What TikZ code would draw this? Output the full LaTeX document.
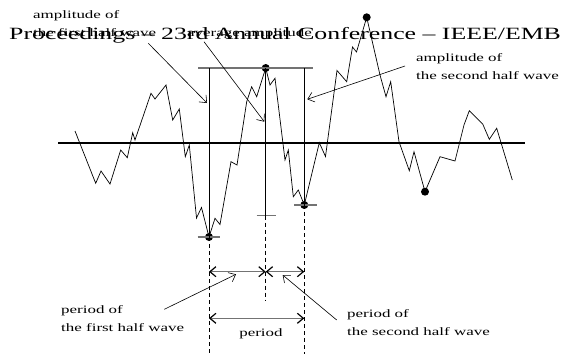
\documentclass[tikz,border=0pt]{standalone}
\usepackage{fontspec}
\setmainfont{Liberation Serif}[FakeStretch=1.5]
\usetikzlibrary{arrows.meta}

\begin{document}
\begin{tikzpicture}[x=1pt, y=-1pt,
  lbl/.style={align=left, anchor=base west, inner sep=0pt, font=\fontsize{11.3}{17.7}\selectfont},
  wave/.style={line width=0.7pt, line join=miter},
  guide/.style={line width=0.7pt},
  tick/.style={line width=1.1pt, draw=black!55},
  dot/.style={circle, fill=black, inner sep=0pt, minimum size=8pt},
  guess/.style={line width=0.7pt, dash pattern=on 4pt off 3pt},
  pointer/.style={-{Straight Barb[length=6pt, width=10pt]}, line width=0.6pt},
  span/.style={{Straight Barb[length=6pt, width=10pt, color=black]}-{Straight Barb[length=6pt, width=10pt, color=black]}, line width=1.2pt, draw=black!55}
]
\useasboundingbox (0,0) rectangle (563,354);
\node[anchor=base west, inner sep=0pt, font=\fontsize{17.2}{20}\selectfont] (head) at (9,39.5) {Proceedings -- 23rd Annual Conference -- IEEE/EMB};

\draw[line width=1.1pt] (58,143) -- (525,143);
\draw[wave] (75,131) -- (95.7,183.3) -- (101,171) -- (110,184) -- (120.7,150) -- (127.3,157.7)
  -- (132.7,132.7) -- (135,140) -- (151,93.3) -- (155,99) -- (166,85) -- (172.7,120) -- (179.3,109)
  -- (185.3,156.7) -- (189.3,145) -- (196.5,218) -- (201.5,207.5) -- (209,237) -- (215,218.3)
  -- (220,224.5) -- (231,161.7) -- (237,165) -- (246.7,101.7) -- (251.7,86.7) -- (256.7,96.7)
  -- (265.7,68) -- (270,85) -- (275,78.3) -- (285,160) -- (288.3,150) -- (293.3,196.7) -- (298.3,190)
  -- (304.3,205) -- (319.3,142.7) -- (325.5,156.5) -- (337,70.5) -- (346.7,81.7) -- (352.5,47)
  -- (356.5,52) -- (366.7,17.3) -- (380,75) -- (386,96.7) -- (390.7,81.7) -- (399,141.7)
  -- (409.3,170.7) -- (414,151.7) -- (425,191.7) -- (440,156.7) -- (455,161) -- (464,125)
  -- (469.3,110.7) -- (482.7,124) -- (489.3,139.3) -- (496.7,128.3) -- (512.3,180);

\node[dot] (min1) at (209,237) {};
\node[dot] (peak) at (265.7,68) {};
\node[dot] (min2) at (304.3,205) {};
\node[dot] (top) at (366.7,17.3) {};
\node[dot] (low) at (425,191.7) {};

\coordinate (a1) at (209,68);
\coordinate (a2) at (304.3,68);
\coordinate (mid) at (265.7,215.7);
\draw[tick] (198,68) -- (313,68);
\draw[tick] (197.7,237) -- (220,237);
\draw[tick] (294,205) -- (316.7,205);
\draw[tick] (256.5,215.7) -- (275.5,215.7);
\draw[guide] (a1) -- (min1.center);
\draw[guide] (peak.center) -- (mid);
\draw[guide] (a2) -- (min2.center);
\draw[guess] (min1.center) -- (209,354);
\draw[guess] (mid) -- (265.7,300);
\draw[guess] (min2.center) -- (304.3,354);

\coordinate (h1) at (209,271.7);
\coordinate (h2) at (265.7,271.7);
\coordinate (h3) at (304.3,271.7);
\coordinate (p1) at (209,318.3);
\coordinate (p2) at (304.3,318.3);
\draw[span] (h1) -- (h2);
\draw[span] (h2) -- (h3);
\draw[span] (p1) -- (p2);

\node[lbl] (ampa) at (33,36) {amplitude of\\the first half wave};
\node[lbl] (avg) at (187,36) {average amplitude};
\node[lbl] (ampb) at (416,79) {amplitude of\\the second half wave};
\node[lbl] (pera) at (61,331) {period of\\the first half wave};
\node[lbl] (perb) at (347,335.5) {period of\\the second half wave};
\node[lbl, anchor=base] (per) at (261,336.7) {period};

\coordinate (s1) at (148.3,43.3);
\coordinate (s2) at (204,41.7);
\coordinate (s3) at (405,66);
\coordinate (s4) at (164.3,309.3);
\coordinate (s5) at (336.7,320);
\coordinate (e1) at (207,103);
\coordinate (e2) at (264.3,121.7);
\coordinate (e3) at (307.3,99.3);
\coordinate (e4) at (236,274.3);
\coordinate (e5) at (282.7,275);
\draw[pointer] (s1) -- (e1);
\draw[pointer] (s2) -- (e2);
\draw[pointer] (s3) -- (e3);
\draw[pointer] (s4) -- (e4);
\draw[pointer] (s5) -- (e5);
\end{tikzpicture}
\end{document}
